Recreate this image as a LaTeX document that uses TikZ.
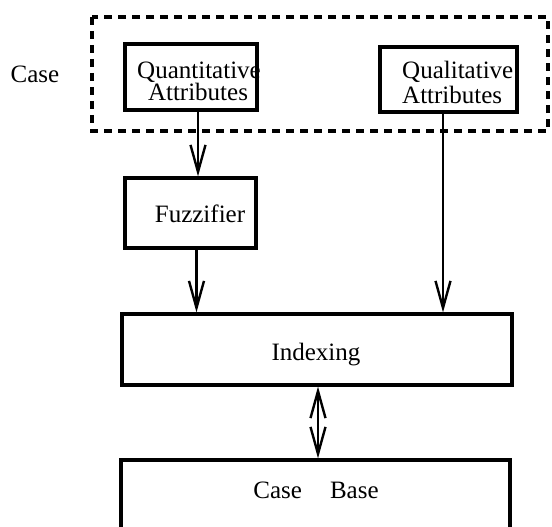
\documentclass[tikz,border=0pt]{standalone}
\usepackage{fontspec}
\setmainfont{Liberation Serif}
\usetikzlibrary{arrows.meta,calc}
\begin{document}
\begin{tikzpicture}[x=1pt,y=1pt,
  box/.style={draw, line width=3.2pt, rectangle, inner sep=0pt},
  txt/.style={inner sep=0pt, font=\fontsize{25}{22}\selectfont, align=center},
  tip/.tip={Straight Barb[length=27pt,width=15pt,line width=2.4pt]},
  arr/.style={line width=2.4pt, -tip},
  darr/.style={line width=2.4pt, tip-tip},
  grp/.style={line width=3.2pt, dash pattern=on 8pt off 6pt}]
\useasboundingbox (0,0) rectangle (552,-527);
% group (dashed)
\draw[grp] (92,-17) rectangle (548,-131);
\node[txt, anchor=base] (caselbl) at (35,-83) {Case};
% boxes
\node[box, minimum width=132pt, minimum height=66pt] (quant) at (191,-77) {};
\node[box, minimum width=137pt, minimum height=65pt] (qual) at (448.5,-79.5) {};
\node[box, minimum width=131pt, minimum height=70pt] (fuzz) at (190.5,-213) {};
\node[box, minimum width=390pt, minimum height=71pt] (index) at (317,-349.5) {};
\node[box, minimum width=389pt, minimum height=110pt] (base) at (315.5,-515) {};
% texts
\node[txt, anchor=base] (quantA) at (199,-78) {Quantitative};
\node[txt, anchor=base] (quantB) at (198,-101) {Attributes};
\node[txt, anchor=base west] (qualA) at (402,-79) {Qualitative};
\node[txt, anchor=base west] (qualB) at (402,-103) {Attributes};
\node[txt, anchor=base] (fuzzt) at (200,-222) {Fuzzifier};
\node[txt, anchor=base] (indext) at (316,-360) {Indexing};
\node[txt, anchor=base] (baset) at (316,-498) {Case\hspace{28pt}Base};
% connectors
\draw[arr] ([xshift=7pt]quant.south) -- ([xshift=7pt]quant.south |- fuzz.north);
\draw[arr] ([xshift=6pt]fuzz.south) -- ([xshift=6pt]fuzz.south |- index.north);
\draw[arr] ([xshift=-5.5pt]qual.south) -- ([xshift=-5.5pt]qual.south |- index.north);
\draw[darr] ([xshift=1pt]index.south) -- ([xshift=1pt]index.south |- base.north);
\end{tikzpicture}
\end{document}
